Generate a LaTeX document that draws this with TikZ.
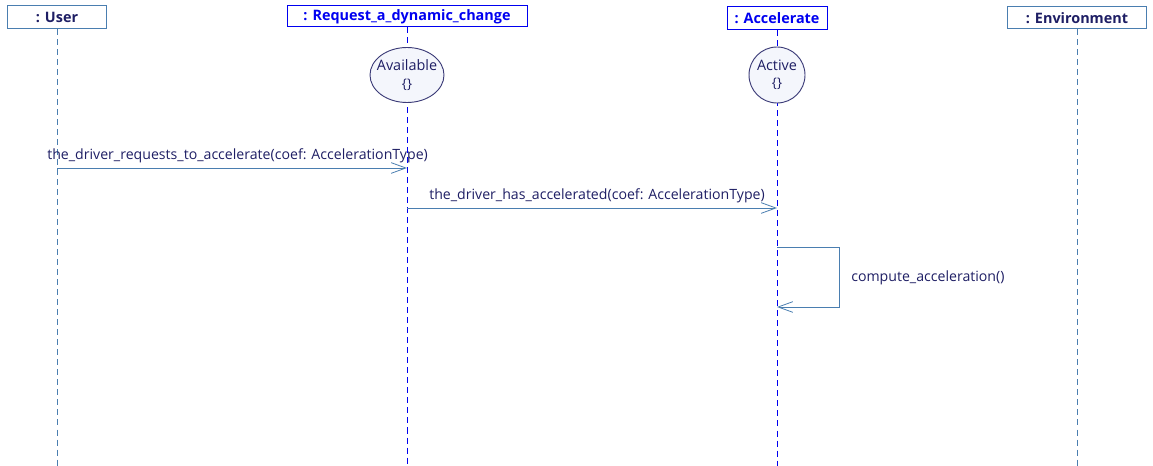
\documentclass[tikz,border=0pt]{standalone}
\usepackage{fontspec}
\setmainfont{Open Sans}
\usetikzlibrary{arrows.meta,shapes.geometric}
\definecolor{navy}{HTML}{1E1E64}
\definecolor{sblue}{HTML}{4A7EB0}
\definecolor{pblue}{HTML}{0000F0}
\definecolor{efill}{HTML}{F4F6FC}
\definecolor{eline}{HTML}{3C3C78}
\tikzset{
  headbox/.style={draw=#1,line width=0.75pt,inner sep=0pt,font=\fontsize{10.8}{12}\selectfont\bfseries},
  life/.style={draw=#1,line width=0.6pt,dash pattern=on 4.5pt off 3pt},
  statenode/.style={draw=eline,fill=efill,line width=0.7pt,ellipse,inner sep=0pt,text=navy,font=\fontsize{10.8}{14}\selectfont,align=center},
  msg/.style={draw=sblue,line width=0.6pt,-{Straight Barb[length=11pt,width=8pt,line width=0.6pt]}},
  lbl/.style={text=navy,font=\fontsize{10.6}{12}\selectfont,inner sep=0pt}
}
\begin{document}
\begin{tikzpicture}[x=0.75pt,y=-0.75pt]
\useasboundingbox (0,0) rectangle (1153,466);
% heads
\node[headbox=sblue,minimum width=99*0.75pt,minimum height=23*0.75pt,text=navy] (user) at (57,17.5) {: User};
\node[headbox=pblue,minimum width=240*0.75pt,minimum height=21*0.75pt,text=pblue] (req) at (407,16.5) {: Request\_a\_dynamic\_change};
\node[headbox=pblue,minimum width=100*0.75pt,minimum height=23*0.75pt,text=pblue] (acc) at (777,18.5) {: Accelerate};
\node[headbox=sblue,minimum width=139*0.75pt,minimum height=22*0.75pt,text=navy] (env) at (1077,18) {: Environment};
% lifeline bottoms
\coordinate (userb) at (57,466);
\coordinate (reqb) at (407,466);
\coordinate (accb) at (777,466);
\coordinate (envb) at (1077,466);
\draw[life=sblue] (user.south) -- (userb);
\draw[life=pblue] (req.south) -- (reqb);
\draw[life=pblue] (acc.south) -- (accb);
\draw[life=sblue] (env.south) -- (envb);
% states
\node[statenode,inner xsep=-5.2pt,inner ysep=-4pt,minimum width=74*0.75pt,minimum height=55*0.75pt] (avail) at (407,75) {Available\\[-1pt]{\fontsize{10}{11}\selectfont\{\}}};
\node[statenode,circle,minimum size=56*0.75pt] (active) at (777,75) {Active\\[-1pt]{\fontsize{10}{11}\selectfont\{\}}};
% message anchors
\coordinate (m1s) at (57,168);
\coordinate (m1e) at (407,168);
\coordinate (m2s) at (407,208);
\coordinate (m2e) at (777,208);
\coordinate (m3s) at (777,247);
\coordinate (m3a) at (839,247);
\coordinate (m3b) at (839,307);
\coordinate (m3e) at (777,307);
\draw[msg] (m1s) -- (m1e);
\draw[msg] (m2s) -- (m2e);
\draw[msg] (m3s) -- (m3a) -- (m3b) -- (m3e);
\node[lbl,anchor=base west] (l1) at (47,160) {the\_driver\_requests\_to\_accelerate(coef: AccelerationType)};
\node[lbl,anchor=base west] (l2) at (429,199.5) {the\_driver\_has\_accelerated(coef: AccelerationType)};
\node[lbl,anchor=base west] (l3) at (851,282) {compute\_acceleration()};
\end{tikzpicture}
\end{document}
